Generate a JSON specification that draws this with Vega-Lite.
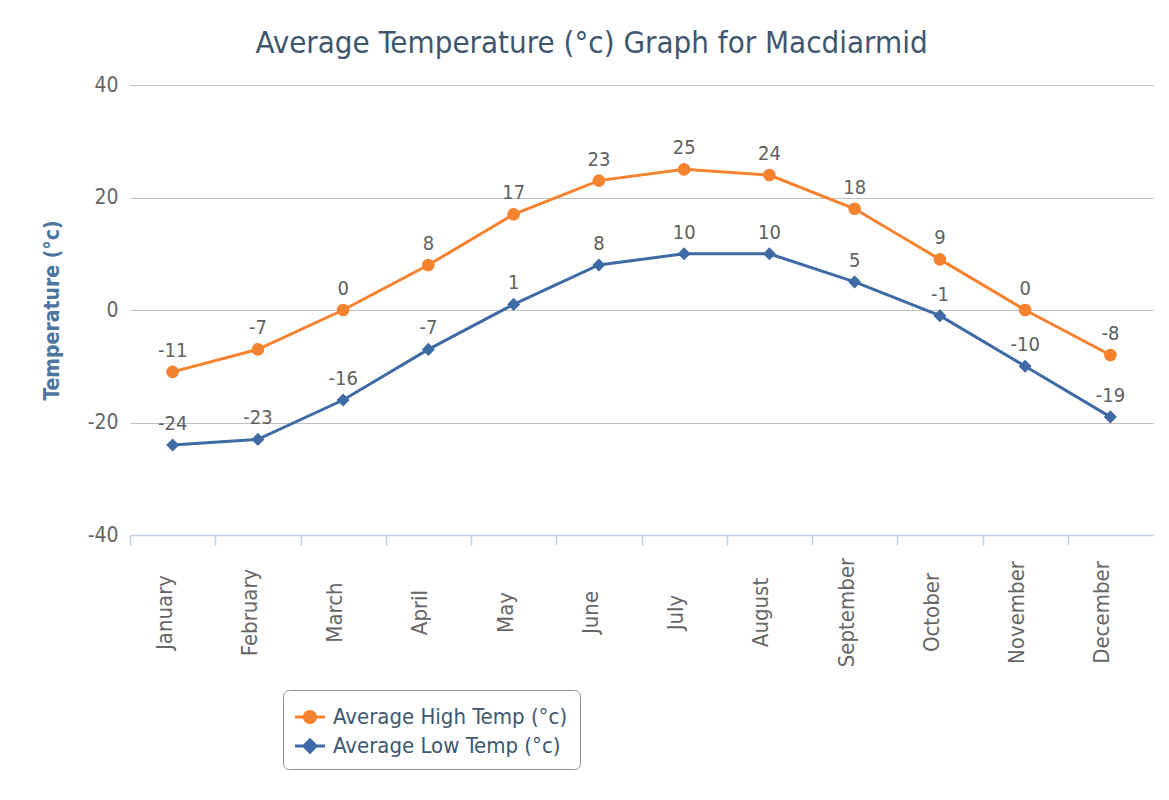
{
  "$schema": "https://vega.github.io/schema/vega-lite/v6.json",
  "autosize": "none",
  "padding": {"left": 130, "top": 85, "right": 16, "bottom": 265},
  "width": 1023,
  "height": 450,
  "background": "white",
  "config": {
    "font": "DejaVu Sans Condensed, DejaVu Sans",
    "view": {"stroke": null}
  },
  "title": {
    "text": "Average Temperature (°c) Graph for Macdiarmid",
    "fontSize": 31,
    "fontWeight": "normal",
    "color": "#3E576F",
    "anchor": "middle",
    "dx": -50,
    "offset": 14,
    "font": "DejaVu Sans Condensed, DejaVu Sans"
  },
  "data": {
    "values": [
      {"month": "January", "series": "Average High Temp (°c)", "temp": -11},
      {"month": "February", "series": "Average High Temp (°c)", "temp": -7},
      {"month": "March", "series": "Average High Temp (°c)", "temp": 0},
      {"month": "April", "series": "Average High Temp (°c)", "temp": 8},
      {"month": "May", "series": "Average High Temp (°c)", "temp": 17},
      {"month": "June", "series": "Average High Temp (°c)", "temp": 23},
      {"month": "July", "series": "Average High Temp (°c)", "temp": 25},
      {"month": "August", "series": "Average High Temp (°c)", "temp": 24},
      {"month": "September", "series": "Average High Temp (°c)", "temp": 18},
      {"month": "October", "series": "Average High Temp (°c)", "temp": 9},
      {"month": "November", "series": "Average High Temp (°c)", "temp": 0},
      {"month": "December", "series": "Average High Temp (°c)", "temp": -8},
      {"month": "January", "series": "Average Low Temp (°c)", "temp": -24},
      {"month": "February", "series": "Average Low Temp (°c)", "temp": -23},
      {"month": "March", "series": "Average Low Temp (°c)", "temp": -16},
      {"month": "April", "series": "Average Low Temp (°c)", "temp": -7},
      {"month": "May", "series": "Average Low Temp (°c)", "temp": 1},
      {"month": "June", "series": "Average Low Temp (°c)", "temp": 8},
      {"month": "July", "series": "Average Low Temp (°c)", "temp": 10},
      {"month": "August", "series": "Average Low Temp (°c)", "temp": 10},
      {"month": "September", "series": "Average Low Temp (°c)", "temp": 5},
      {"month": "October", "series": "Average Low Temp (°c)", "temp": -1},
      {"month": "November", "series": "Average Low Temp (°c)", "temp": -10},
      {"month": "December", "series": "Average Low Temp (°c)", "temp": -19}
    ]
  },
  "encoding": {
    "x": {
      "field": "month",
      "type": "nominal",
      "sort": ["January","February","March","April","May","June","July","August","September","October","November","December"],
      "axis": {
        "title": null,
        "labelAngle": -90,
        "labelAlign": "center",
        "labelBaseline": "alphabetic",
        "labelFontSize": 22,
        "labelColor": "#666666",
        "labelPadding": 67,
        "labelOffset": 41,
        "tickOffset": -42.625,
        "domainColor": "#C0D0E0",
        "domainWidth": 1.5,
        "tickColor": "#C0D0E0",
        "tickSize": 10,
        "tickWidth": 1.5,
        "grid": false
      }
    },
    "y": {
      "field": "temp",
      "type": "quantitative",
      "scale": {"domain": [-40, 40], "nice": false},
      "axis": {
        "title": "Temperature (°c)",
        "titleFontSize": 21,
        "titleFontWeight": "bold",
        "titleColor": "#4D759E",
        "titlePadding": 25,
        "values": [-40, -20, 0, 20, 40],
        "labelExpr": "replace(datum.label, '−', '-')",
        "labelFontSize": 21,
        "labelColor": "#666666",
        "labelPadding": 12,
        "domain": false,
        "ticks": false,
        "gridColor": "#C0C0C0",
        "gridWidth": 1.2
      }
    },
    "color": {
      "field": "series",
      "type": "nominal",
      "scale": {
        "domain": ["Average High Temp (°c)", "Average Low Temp (°c)"],
        "range": ["#F5822E", "#3E6AA5"]
      },
      "legend": null
    }
  },
  "layer": [
    {
      "mark": {"type": "line", "strokeWidth": 3},
      "encoding": {
        "color": {
          "field": "series",
          "type": "nominal",
          "legend": {
            "title": null,
            "orient": "none",
            "legendX": 153,
            "legendY": 605,
            "padding": 12,
            "strokeColor": "#909090",
            "cornerRadius": 6,
            "fillColor": "white",
            "labelFontSize": 22,
            "labelColor": "#3E576F",
            "labelLimit": 600,
            "labelOffset": 8,
            "rowPadding": 3,
            "symbolSize": 900,
            "symbolStrokeWidth": 0,
            "encode": {
              "legend": {"update": {"width": {"value": 590}}},
              "symbols": {
                "update": {
                  "shape": {"signal": "datum.index === 0 ? 'M-1,-0.1H1V0.1H-1Z M0.47,0A0.47,0.47 0 1,1 -0.47,0A0.47,0.47 0 1,1 0.47,0Z' : 'M-1,-0.1H1V0.1H-1Z M0,-0.55L0.55,0L0,0.55L-0.55,0Z'"},
                  "fill": {"scale": "color", "field": "value"},
                  "strokeWidth": {"value": 0}
                }
              }
            }
          }
        }
      }
    },
    {
      "transform": [{"filter": "datum.series === 'Average High Temp (°c)'"}],
      "mark": {"type": "point", "shape": "circle", "filled": true, "opacity": 1, "size": 160}
    },
    {
      "transform": [{"filter": "datum.series === 'Average Low Temp (°c)'"}],
      "mark": {"type": "point", "shape": "diamond", "filled": true, "opacity": 1, "size": 170}
    },
    {
      "mark": {"type": "text", "dy": -21, "fontSize": 20, "color": "#606060"},
      "encoding": {
        "text": {"field": "temp", "type": "nominal"},
        "color": {"value": "#606060"}
      }
    }
  ]
}
